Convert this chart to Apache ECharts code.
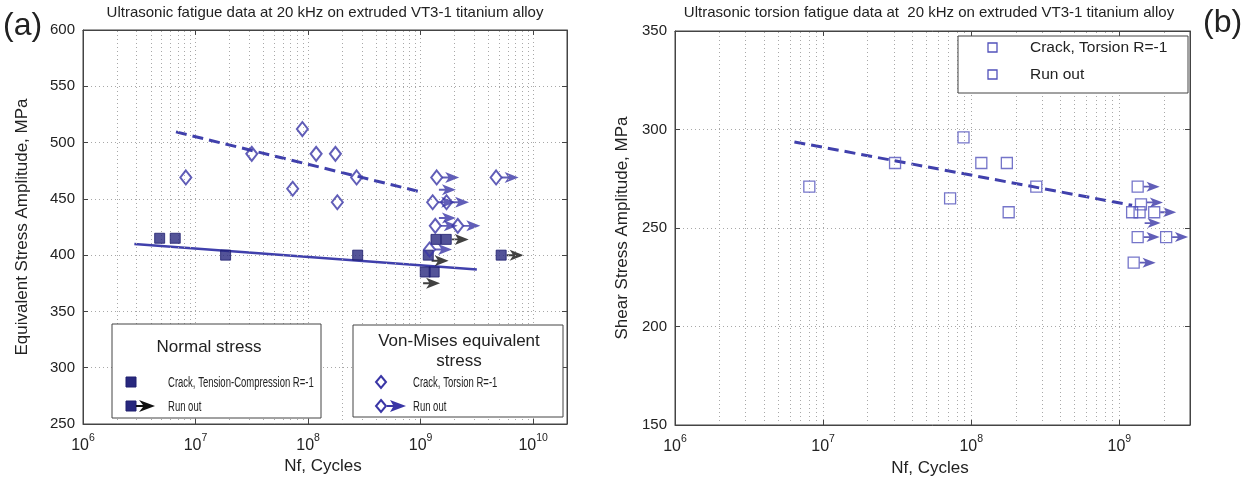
<!DOCTYPE html>
<html><head><meta charset="utf-8">
<script src="https://cdn.jsdelivr.net/npm/echarts/dist/echarts.min.js"></script>
<style>html,body{margin:0;padding:0;background:#fff}#c{width:1257px;height:482px}</style>
</head><body><div id="c"></div>
<script>
// ---------- data (a) ----------
const xMinA = 1e6, xMaxA = 2e10, yMinA = 250, yMaxA = 600;
const squaresA = [[4.8e6,415],[6.6e6,415],[1.85e7,400],[2.76e8,400],[1.17e9,400],[1.1e9,385],[1.32e9,385],[1.37e9,414],[1.69e9,414],[5.2e9,400]];
const squareArrowsA = [[1.69e9,414],[5.2e9,400],[1.12e9,395],[9.4e8,375]];
const diamondsCrackA = [[8.2e6,469],[3.16e7,490],[8.9e7,512],[1.18e8,490],[1.75e8,490],[7.3e7,459],[1.82e8,447],[2.7e8,469]];
const diamondsRunA = [[1.39e9,469],[4.69e9,469],[1.28e9,447],[1.7e9,447],[1.35e9,426],[2.14e9,426],[1.2e9,405]];
const diamondArrowsExtraA = [[1.3e9,458],[1.3e9,433]];
const fitNormalA = [[2.86e6,410],[3.16e9,387.3]];
const fitVonMisesA = [[6.7e6,509.5],[1.02e9,456]];
// ---------- data (b) ----------
const xMinB = 1e6, xMaxB = 3e9, yMinB = 150, yMaxB = 350;
const squaresCrackB = [[8.07e6,271],[3.06e7,283],[7.2e7,265],[8.87e7,296],[1.17e8,283],[1.74e8,283],[1.79e8,258],[2.75e8,271]];
const squaresRunB = [[1.33e9,271],[1.4e9,262],[1.22e9,258],[1.37e9,258],[1.72e9,258],[1.33e9,245.4],[2.07e9,245.4],[1.25e9,232.4]];
const arrowsB = [[1.33e9,271],[1.4e9,263],[1.72e9,258],[1.35e9,252.5],[1.33e9,245.4],[2.07e9,245.4],[1.25e9,232.4]];
const fitTorsionB = [[6.4e6,293.7],[1.22e9,261.5]];
// ---------- text ----------
const titleA = 'Ultrasonic fatigue data at 20 kHz on extruded VT3-1 titanium alloy';
const titleB = 'Ultrasonic torsion fatigue data at  20 kHz on extruded VT3-1 titanium alloy';
const yNameA = 'Equivalent Stress Amplitude, MPa';
const yNameB = 'Shear Stress Amplitude, MPa';
const xName = 'Nf, Cycles';

function minorTicks(lo, hi){ // 2..9 x each decade
  const out=[];
  for(let e=Math.round(Math.log10(lo)); e<Math.log10(hi); e++){
    for(let m=2;m<=9;m++){ const v=m*Math.pow(10,e); if(v<hi && v>lo) out.push(v); }
  }
  return out;
}
const minorA = minorTicks(xMinA, xMaxA);
const minorB = minorTicks(xMinB, xMaxB);

const FONT = 'Liberation Sans, Arial, sans-serif';
const NAVY = '#28287e', BLUE = '#3a36a6', LBLUE = '#5252bb', LINE = '#4040ac';
const GRIDC = '#a8a8a8';
const arrowPath = 'path://M0,4.1 L6,4.1 L3,0 L17,5 L3,10 L6,5.9 L0,5.9 Z';

function logLabel(v){
  const l = Math.log10(v), e = Math.round(l);
  if (Math.abs(l-e) > 1e-6) return '';
  return '{b|10}{s|' + e + '}';
}
function xAxisBottom(gi, min, max){
  return {type:'log', logBase:10, gridIndex:gi, min, max, position:'bottom',
    axisLine:{show:true, lineStyle:{color:'#444'}},
    axisTick:{show:true, inside:true, length:5, lineStyle:{color:'#444'}},
    axisLabel:{formatter:logLabel, margin:9, color:'#222',
      rich:{b:{fontSize:16, fontFamily:FONT, color:'#222', verticalAlign:'bottom'},
            s:{fontSize:10.5, fontFamily:FONT, color:'#222', verticalAlign:'bottom', padding:[0,0,10,0]}}},
    splitLine:{show:true, lineStyle:{type:[1,3], color:GRIDC, width:1}}};
}
function xAxisTop(gi, min, max){
  return {type:'log', logBase:10, gridIndex:gi, min, max, position:'top',
    axisLine:{show:true, lineStyle:{color:'#444'}},
    axisTick:{show:true, inside:true, length:5, lineStyle:{color:'#444'}},
    axisLabel:{show:false}, splitLine:{show:false}};
}
function yAxisLeft(gi, min, max){
  return {type:'value', gridIndex:gi, min, max, interval:50, position:'left',
    axisLine:{show:true, lineStyle:{color:'#444'}},
    axisTick:{show:true, inside:true, length:5, lineStyle:{color:'#444'}},
    axisLabel:{fontSize:15, fontFamily:FONT, color:'#222', margin:8},
    splitLine:{show:true, lineStyle:{type:[1,3], color:GRIDC, width:1}}};
}
function yAxisRight(gi, min, max){
  return {type:'value', gridIndex:gi, min, max, interval:50, position:'right',
    axisLine:{show:true, lineStyle:{color:'#444'}},
    axisTick:{show:true, inside:true, length:5, lineStyle:{color:'#444'}},
    axisLabel:{show:false}, splitLine:{show:false}};
}
function minorMark(list){
  return {silent:true, symbol:['none','none'], animation:false, label:{show:false},
    lineStyle:{type:[1,3], color:GRIDC, width:1},
    data:list.map(v=>({xAxis:v}))};
}

const chart = echarts.init(document.getElementById('c'), null, {renderer:'canvas'});

const g = [];
function txt(x,y,text,font,opts){
  opts = opts||{};
  g.push(Object.assign({type:'text', x, y, z:100,
    style:{text, font, fill:'#222', align:opts.align||'center', verticalAlign:'middle',
      textAlign:opts.align||'center', textVerticalAlign:'middle'}}, opts.el||{}));
}
// panel labels and titles
txt(3, 26, '(a)', '32px '+FONT, {align:'left'});
txt(1203, 23, '(b)', '32px '+FONT, {align:'left'});
txt(325, 13, titleA, '15px '+FONT);
txt(929, 13, titleB, '15px '+FONT);
txt(22, 227, yNameA, '17px '+FONT, {el:{rotation:Math.PI/2}});
txt(622, 228, yNameB, '17px '+FONT, {el:{rotation:Math.PI/2}});
txt(323, 466, xName, '17px '+FONT);
txt(930, 468, xName, '17px '+FONT);

// legend box: Normal stress
g.push({type:'rect', z:90, shape:{x:112,y:324,width:209,height:94}, style:{fill:'#fff', stroke:'#444', lineWidth:1}});
txt(209, 347, 'Normal stress', '17px '+FONT);
g.push({type:'rect', z:100, shape:{x:126,y:377,width:10,height:10}, style:{fill:NAVY, stroke:'#1e1e6e', lineWidth:1}});
txt(168, 383, 'Crack, Tension-Compression R=-1', '14px '+FONT, {align:'left', el:{scaleX:0.68}});
g.push({type:'rect', z:100, shape:{x:126,y:401,width:10,height:10}, style:{fill:NAVY, stroke:'#1e1e6e', lineWidth:1}});
g.push({type:'polygon', z:100, shape:{points:[[136,405],[143,405],[139,400],[155,406],[139,412],[143,407],[136,407]]}, style:{fill:'#111'}});
txt(168, 407, 'Run out', '14px '+FONT, {align:'left', el:{scaleX:0.68}});
// legend box: Von-Mises
g.push({type:'rect', z:90, shape:{x:353,y:325,width:210,height:92}, style:{fill:'#fff', stroke:'#444', lineWidth:1}});
txt(459, 341, 'Von-Mises equivalent', '17px '+FONT);
txt(459, 361, 'stress', '17px '+FONT);
g.push({type:'polygon', z:100, shape:{points:[[381,376],[386,382],[381,388],[376,382]]}, style:{fill:'#fff', stroke:BLUE, lineWidth:2}});
txt(413, 383, 'Crack, Torsion R=-1', '14px '+FONT, {align:'left', el:{scaleX:0.68}});
g.push({type:'polygon', z:100, shape:{points:[[381,400],[386,406],[381,412],[376,406]]}, style:{fill:'#fff', stroke:BLUE, lineWidth:2}});
g.push({type:'polygon', z:100, shape:{points:[[387,405],[393,405],[390,400],[406,406],[390,412],[393,407],[387,407]]}, style:{fill:BLUE}});
txt(413, 407, 'Run out', '14px '+FONT, {align:'left', el:{scaleX:0.68}});
// legend box (b)
g.push({type:'rect', z:90, shape:{x:958,y:36,width:230,height:57}, style:{fill:'#fff', stroke:'#444', lineWidth:1}});
g.push({type:'rect', z:100, shape:{x:988,y:43,width:9,height:9}, style:{fill:'#fff', stroke:LBLUE, lineWidth:1.3}});
txt(1030, 48, 'Crack, Torsion R=-1', '15.5px '+FONT, {align:'left'});
g.push({type:'rect', z:100, shape:{x:988,y:70,width:9,height:9}, style:{fill:'#fff', stroke:LBLUE, lineWidth:1.3}});
txt(1030, 75, 'Run out', '15.5px '+FONT, {align:'left'});

const option = {
  animation:false,
  backgroundColor:'#fff',
  grid:[
    {left:83, top:30, width:484, height:394, show:true, borderColor:'#444', borderWidth:1, backgroundColor:'#fff', outerBoundsMode:'none'},
    {left:675, top:31, width:515, height:394, show:true, borderColor:'#444', borderWidth:1, backgroundColor:'#fff', outerBoundsMode:'none'}
  ],
  xAxis:[xAxisBottom(0,xMinA,xMaxA), xAxisTop(0,xMinA,xMaxA), xAxisBottom(1,xMinB,xMaxB), xAxisTop(1,xMinB,xMaxB)],
  yAxis:[yAxisLeft(0,yMinA,yMaxA), yAxisRight(0,yMinA,yMaxA), yAxisLeft(1,yMinB,yMaxB), yAxisRight(1,yMinB,yMaxB)],
  graphic:{elements:g},
  series:[
    {type:'line', xAxisIndex:0, yAxisIndex:0, data:fitNormalA, symbol:'none', z:3,
     lineStyle:{color:LINE, width:2.5}, markLine:minorMark(minorA)},
    {type:'line', xAxisIndex:0, yAxisIndex:0, data:fitVonMisesA, symbol:'none', z:3,
     lineStyle:{color:LINE, width:3, type:[11,6]}},
    {type:'scatter', xAxisIndex:0, yAxisIndex:0, data:squareArrowsA, symbol:arrowPath, symbolSize:[17,11], symbolOffset:[14,0], z:4,
     itemStyle:{color:'#111'}},
    {type:'scatter', xAxisIndex:0, yAxisIndex:0, data:diamondsRunA.concat(diamondArrowsExtraA), symbol:arrowPath, symbolSize:[17,11], symbolOffset:[14,0], z:4,
     itemStyle:{color:BLUE}},
    {type:'scatter', xAxisIndex:0, yAxisIndex:0, data:squaresA, symbol:'rect', symbolSize:10, z:5,
     itemStyle:{color:NAVY, borderColor:'#1e1e6e', borderWidth:1}},
    {type:'scatter', xAxisIndex:0, yAxisIndex:0, data:diamondsCrackA.concat(diamondsRunA), symbol:'diamond', symbolSize:[11,14], z:5,
     itemStyle:{color:'rgba(255,255,255,0)', borderColor:BLUE, borderWidth:2}},
    // (b)
    {type:'line', xAxisIndex:2, yAxisIndex:2, data:fitTorsionB, symbol:'none', z:3,
     lineStyle:{color:LINE, width:3, type:[11,6]}, markLine:minorMark(minorB)},
    {type:'scatter', xAxisIndex:2, yAxisIndex:2, data:arrowsB, symbol:arrowPath, symbolSize:[16,10], symbolOffset:[14,0], z:4,
     itemStyle:{color:BLUE}},
    {type:'scatter', xAxisIndex:2, yAxisIndex:2, data:squaresCrackB.concat(squaresRunB), symbol:'rect', symbolSize:11, z:5,
     itemStyle:{color:'rgba(255,255,255,0)', borderColor:LBLUE, borderWidth:1.3}}
  ]
};
chart.setOption(option);
</script></body></html>
